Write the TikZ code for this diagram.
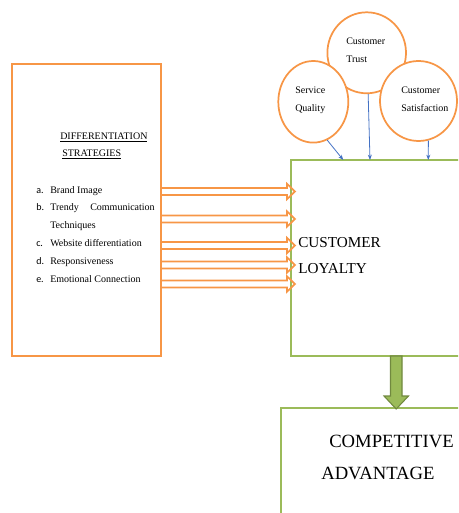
\documentclass[tikz,border=0pt]{standalone}
\usepackage{fontspec}
\setmainfont{Liberation Serif}
\newfontfamily\labelfont{Carlito}
\usetikzlibrary{shapes.geometric,arrows.meta,fit}
\definecolor{boxorange}{RGB}{247,150,70}
\definecolor{boxgreen}{RGB}{155,187,89}
\definecolor{darkgreen}{RGB}{113,137,63}
\definecolor{linkblue}{RGB}{68,114,196}
\tikzset{
  factor/.style={ellipse, draw=boxorange, line width=1.3pt, fill=white, inner sep=0pt},
  orangebox/.style={draw=boxorange, line width=1pt, inner sep=0pt},
  greenbox/.style={draw=boxgreen, line width=0.9pt, inner sep=0pt},
  small/.style={font=\fontsize{7.5pt}{9pt}\selectfont, inner sep=0pt, anchor=base west},
  blockarrow/.style={draw=boxorange, line width=1.3pt, line join=miter},
  link/.style={draw=linkblue, line width=0.6pt, -{Stealth[length=4pt,width=3pt]}},
}
\begin{document}
\begin{tikzpicture}[x=0.75pt,y=-0.75pt]
\useasboundingbox (0,0) rectangle (458,513);
\clip (0,0) rectangle (458,513);

% left box with the strategies
\node[orangebox, fit={(12,64) (161,356)}] (strat) {};
\node[small] (h1) at (60,139.5) {\underline{DIFFERENTIATION}};
\node[small] (h2) at (62,156.5) {\underline{STRATEGIES}};
\node[small] (la) at (36,193.5) {\labelfont a.};
\node[small] at (50,193.5) {Brand Image};
\node[small] (lb) at (36,210.5) {\labelfont b.};
\node[small] at (50,210.5) {Trendy};
\node[small, anchor=base east] at (155,210.5) {Communication};
\node[small] at (50,228.5) {Techniques};
\node[small] (lc) at (36,246.5) {\labelfont c.};
\node[small] at (50,246.5) {Website differentiation};
\node[small] (ld) at (36,264.5) {\labelfont d.};
\node[small] at (50,264.5) {Responsiveness};
\node[small] (le) at (36,282.5) {\labelfont e.};
\node[small] at (50,282.5) {Emotional Connection};

% customer loyalty box
\node[greenbox, fit={(291,160) (480,356)}] (loyal) {};
\node[font=\fontsize{11.4pt}{13pt}\selectfont, inner sep=0pt, anchor=base west] at (298,247) {CUSTOMER};
\node[font=\fontsize{11.4pt}{13pt}\selectfont, inner sep=0pt, anchor=base west] at (298,273) {LOYALTY};

% competitive advantage box
\node[greenbox, fit={(281,408) (480,530)}] (adv) {};
\node[font=\fontsize{14pt}{16pt}\selectfont, inner sep=0pt, anchor=base west] at (329,447) {COMPETITIVE};
\node[font=\fontsize{14pt}{16pt}\selectfont, inner sep=0pt, anchor=base west] at (321,479) {ADVANTAGE};

% block arrows from the strategies to loyalty
\foreach \y in {191.5,219,245.5,265,284}{
  \draw[blockarrow] (161,\y-3.5) -- (287,\y-3.5) -- (287,\y-7.7) -- (295,\y)
    -- (287,\y+7.7) -- (287,\y+3.5) -- (161,\y+3.5) -- cycle;
}

% green arrow from loyalty down to advantage
\draw[draw=darkgreen, fill=boxgreen, line width=0.8pt, line join=miter]
  (390.5,356) -- (402,356) -- (402,396) -- (408.5,396) -- (396.2,409)
  -- (384,396) -- (390.5,396) -- cycle;

% the three circles (trust underneath)
\node[factor, minimum width=78.6*0.75pt, minimum height=81*0.75pt] (trust) at (366.7,52.8) {};
\node[factor, minimum width=70*0.75pt, minimum height=81.6*0.75pt] (sq) at (313.3,101.8) {};
\node[factor, minimum width=77*0.75pt, minimum height=80*0.75pt] (sat) at (418.5,101) {};
\node[small] at (346,45) {Customer};
\node[small] at (346,63) {Trust};
\node[small] at (295,94) {Service};
\node[small] at (295,111.5) {Quality};
\node[small] at (401,93.5) {Customer};
\node[small] at (401,111.5) {Satisfaction};

% links into the loyalty box
\coordinate (in1) at (343.3,160);
\coordinate (in2) at (370,160);
\coordinate (in3) at (428.3,160);
\draw[link] (sq.-70) -- (in1);
\draw[link] (trust.-88) -- (in2);
\draw[link] (sat.-76) -- (in3);
\end{tikzpicture}
\end{document}
